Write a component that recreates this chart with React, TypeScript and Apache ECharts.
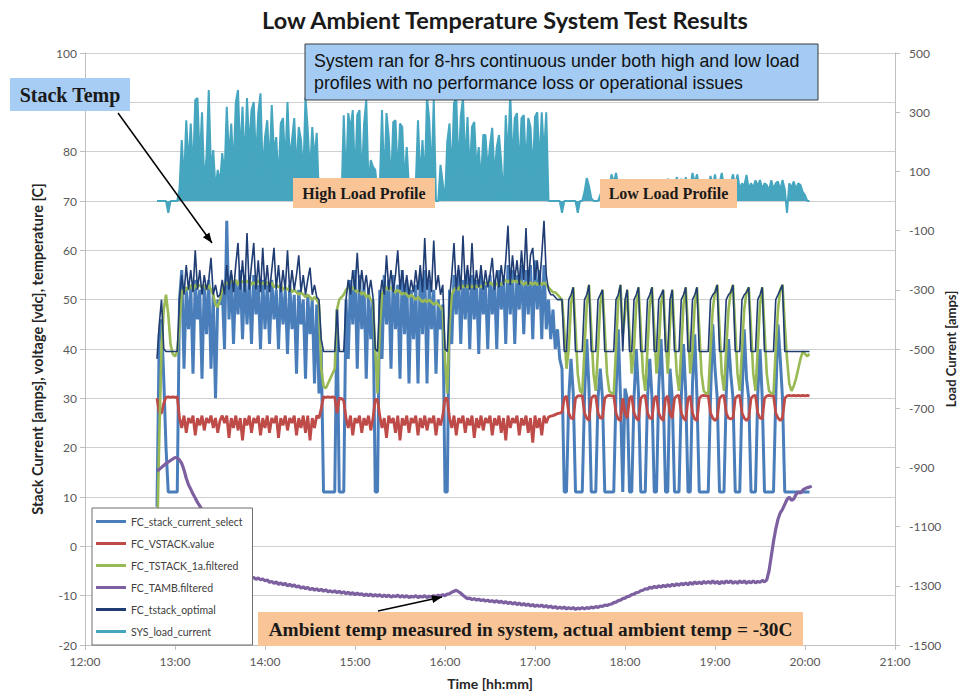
import React, { useEffect, useRef } from "react";
import * as echarts from "echarts";

// Sampling of the logged data: first sample 12:48, one sample every 1.5 minutes
const T0 = 12.8; // hours
const STEP = 0.025; // hours

const xTickHours = [12, 13, 14, 15, 16, 17, 18, 19, 20, 21];
const leftTickLabels = [-20, -10, 0, 10, 20, 30, 40, 50, 60, 70, 80, 100]; // 90 sits under the "Stack Temp" box
const loadTicks = [-1500, -1300, -1100, -900, -700, -500, -300, -100, 100, 300, 500];

// FC_stack_current_select [amps]
const stackCurrent = [
  8, 43, 46, 34, 20, 11, 11, 11, 11, 11,
  50, 56, 36, 52, 44, 53, 35, 54, 46, 52,
  34, 53, 43, 54, 36, 51, 30, 50, 49, 52,
  40, 66, 46, 55, 41, 54, 47, 56, 42, 55,
  45, 54, 41, 55, 47, 53, 40, 54, 44, 53,
  41, 54, 46, 52, 40, 53, 45, 52, 39, 53,
  44, 51, 35, 52, 45, 50, 34, 51, 43, 50,
  33, 49, 31, 40, 11, 11, 11, 11, 11, 11,
  48, 11, 11, 11, 50, 38, 54, 45, 56, 36,
  55, 44, 53, 34, 52, 42, 50, 11, 11, 52,
  38, 55, 45, 54, 36, 55, 44, 53, 34, 56,
  43, 54, 33, 52, 42, 53, 33, 55, 43, 56,
  33, 54, 44, 52, 35, 50, 44, 49, 11, 11,
  52, 41, 55, 47, 56, 41, 54, 46, 56, 40,
  55, 46, 54, 39, 55, 47, 53, 40, 55, 47,
  54, 40, 56, 48, 55, 41, 57, 47, 56, 41,
  55, 48, 57, 43, 56, 47, 57, 42, 58, 48,
  56, 42, 57, 44, 50, 42, 48, 40, 44, 38,
  36, 11, 11, 30, 38, 31, 11, 11, 11, 11,
  30, 42, 32, 11, 11, 11, 30, 36, 30, 11,
  11, 11, 11, 11, 31, 44, 30, 11, 32, 30,
  11, 11, 30, 40, 31, 11, 11, 11, 30, 38,
  30, 11, 11, 32, 42, 31, 11, 11, 36, 30,
  11, 11, 11, 30, 41, 31, 11, 11, 33, 43,
  30, 11, 11, 11, 11, 11, 30, 45, 36, 30,
  11, 11, 11, 31, 42, 35, 30, 11, 11, 11,
  30, 44, 34, 30, 11, 11, 11, 31, 40, 30,
  11, 11, 11, 11, 11, 30, 45, 38, 30, 11,
  11, 11, 11, 11, 11, 11, 11, 11, 11, 11,
  11, null,
];

// FC_VSTACK.value [vdc]
const vstack = [
  30, 27, 27, 29, 30.2, 30.3, 30.2, 30.3, 30.2, 30.3,
  26, 24, 26.5, 23, 26, 25, 26.5, 22.5, 26, 24.5,
  26.5, 23.5, 26, 25, 26.5, 24, 26, 23, 25.5, 26.5,
  25, 26.5, 22, 26, 24, 26.5, 23.5, 26, 21.5, 26,
  24.5, 26.5, 23, 26, 25, 26.5, 22.5, 26, 24, 26.5,
  23, 26, 25, 26.5, 22, 26, 24.5, 26.5, 23.5, 26,
  25, 26.5, 22.5, 26, 24, 26.5, 23, 26.5, 21.5, 26,
  24, 26.5, 26, 28, 30.3, 30.2, 30.3, 30.2, 30.3, 30.2,
  27, 30, 30, 29.5, 26, 24, 26.5, 22.5, 26, 25,
  26.5, 23, 26, 24.5, 26.5, 23.5, 26, 29.8, 29.8, 26.5,
  24, 26, 22, 26.5, 25, 26, 23, 26.5, 21.5, 26,
  24.5, 26.5, 23, 26, 25, 26.5, 22.5, 26, 24, 26.5,
  23.5, 26, 25, 26.5, 22.5, 26, 24.5, 26.5, 30, 30,
  26, 24, 26.5, 22.5, 26, 25, 26.5, 23, 26, 24.5,
  26.5, 22, 26, 24, 26.5, 23.5, 26, 25, 26.5, 22.5,
  26, 24.5, 26.5, 23, 26, 21.5, 26.5, 24, 26, 25,
  26.5, 22.5, 26, 24.5, 26.5, 23, 26, 21, 26.5, 24,
  26, 22.5, 26.5, 25, 26.2, 26.4, 26.5, 26.7, 26.9, 27,
  27.2, 30, 30.5, 27, 26, 25.8, 30, 30.5, 30.5, 30.6,
  27, 26, 25.5, 30, 30.5, 30.5, 27, 26, 26, 30,
  30.5, 30.6, 30.5, 30.6, 27, 25.8, 25.5, 30, 27, 26,
  30, 30.5, 27, 26, 25.5, 30, 30.5, 30.6, 27, 26,
  25.8, 30, 30.5, 27, 26, 25.5, 30, 30.5, 27, 26,
  30, 30.5, 30.6, 27, 26, 25.5, 30, 30.5, 27, 25.8,
  25.5, 30, 30.5, 30.6, 30.5, 30.6, 27, 26, 25.5, 26,
  30, 30.5, 30.6, 27, 26, 25.8, 26, 30, 30.5, 30.6,
  27, 26, 25.5, 26, 30, 30.5, 30.6, 27, 26, 25.8,
  30, 30.5, 30.6, 30.5, 30.6, 27, 26, 25.5, 26, 30,
  30.5, 30.6, 30.5, 30.6, 30.5, 30.6, 30.5, 30.6, 30.5, 30.6,
  30.5, null,
];

// FC_TSTACK_1a.filtered [C]
const tstack = [
  0, 22, 40, 48, 51, 47, 41, 39, 38.5, 39.5,
  45, 52, 51.5, 52.5, 52, 53, 52, 53, 52.5, 53,
  52.5, 53, 52, 53, 52, 51, 49, 48.5, 50, 52,
  53, 53.5, 53, 54, 53.5, 54, 53, 54, 53.5, 54,
  53.5, 54, 53, 53.5, 53, 54, 53, 53.5, 53, 53.5,
  53, 53.5, 52.5, 53, 52.5, 53, 52, 52.5, 52, 52.5,
  51.5, 52, 51.5, 51, 51.5, 51, 50.5, 51, 50.5, 50,
  50.5, 50, 49, 36, 32.5, 32, 33, 34, 35, 36,
  48, 50, 50.5, 51, 52, 52.5, 52, 52.5, 52, 51.5,
  52, 51, 51.5, 50.5, 51, 50, 49.5, 40, 31, 44,
  51, 52, 52.5, 52, 52.5, 52, 51.5, 52, 51.5, 51,
  51.5, 51, 50.5, 51, 50.5, 50, 50.5, 50, 49.5, 50,
  49.5, 50, 49.5, 49, 49.5, 49, 48.5, 48, 38, 31,
  45, 51, 52, 52.5, 52, 53, 52.5, 53, 52.5, 53,
  52.5, 53, 52.5, 53, 52.5, 53, 53.5, 53, 53.5, 53,
  53.5, 53, 53.5, 53, 53.5, 54, 53.5, 54, 53.5, 54,
  53.5, 54, 53.5, 53, 53.5, 53, 53.5, 53, 53.5, 53,
  53.5, 53, 53.5, 53, 52.5, 52, 51.5, 51.5, 51, 50.5,
  50, 44, 36, 40, 49, 52.5, 44, 35, 31.5, 31,
  40, 49, 53, 44, 35, 31.5, 40, 49, 52, 44,
  35, 31.5, 31, 31, 40, 50, 53, 43, 47, 52,
  43, 35, 40, 49, 52.5, 44, 35, 31.5, 40, 49,
  52.5, 44, 35, 40, 49, 52, 43, 35, 45, 52,
  43, 35, 31.5, 40, 49, 52.5, 44, 35, 40, 49,
  52.5, 44, 35, 31.5, 31, 31, 40, 48, 51.5, 53,
  44, 35, 31.5, 40, 48, 51.5, 53, 44, 35, 31.5,
  40, 48, 51.5, 52.5, 44, 35, 31.5, 40, 49, 52.5,
  44, 35, 31.5, 31, 31, 40, 48, 52, 53, 45,
  38, 33, 31.5, 32.5, 34, 36, 38, 39.5, 39, 38.5,
  39, null,
];

// FC_TAMB.filtered [C]
const tamb = [
  15.3, 15.6, 16, 16.4, 16.8, 17.1, 17.4, 17.7, 18, 17.9,
  17.5, 16.8, 15.5, 13.8, 12.5, 11.6, 10.6, 9.8, 8.9, 8.2,
  7.4, 6.6, 5.8, 5, 4.2, 3.4, 2.6, 1.8, 1, 0.2,
  -0.6, -1.4, -2.1, -2.8, -3.5, -4.1, -4.7, -5.2, -5.7, -6,
  -6.3, -6.1, -6.5, -6.3, -6.7, -6.4, -6.8, -6.6, -7, -6.8,
  -7.3, -7.1, -7.5, -7.2, -7.7, -7.4, -7.8, -7.5, -8, -7.7,
  -8.1, -7.8, -8.3, -8, -8.5, -8.2, -8.6, -8.3, -8.8, -8.5,
  -8.9, -8.6, -9, -8.7, -9.1, -8.8, -9.2, -9, -9.3, -9,
  -9.4, -9.1, -9.5, -9.2, -9.6, -9.3, -9.7, -9.4, -9.8, -9.5,
  -9.8, -9.6, -10, -9.7, -10, -9.7, -10.1, -9.8, -10.1, -9.8,
  -10.2, -9.9, -10.2, -9.9, -10.3, -10, -10.2, -9.9, -10.3, -10,
  -10.3, -10, -10.4, -10.1, -10.3, -10, -10.4, -10.1, -10.3, -10,
  -10.4, -10.1, -10.3, -10, -10.2, -9.9, -10.1, -9.8, -10, -9.7,
  -9.6, -9.3, -9.1, -8.9, -9.2, -9.5, -9.9, -10.3, -10.6, -10.5,
  -10.8, -10.6, -10.9, -10.7, -11, -10.8, -11.1, -10.9, -11.2, -11,
  -11.3, -11, -11.4, -11.1, -11.5, -11.2, -11.6, -11.3, -11.7, -11.4,
  -11.8, -11.5, -11.9, -11.6, -12, -11.7, -12.1, -11.8, -12.2, -11.9,
  -12.2, -11.9, -12.3, -12, -12.4, -12.1, -12.5, -12.2, -12.6, -12.3,
  -12.6, -12.3, -12.7, -12.4, -12.7, -12.4, -12.8, -12.5, -12.7, -12.4,
  -12.7, -12.4, -12.6, -12.3, -12.5, -12.2, -12.4, -12.1, -12.2, -11.9,
  -12, -11.8, -11.7, -11.4, -11.3, -11, -10.9, -10.6, -10.5, -10.2,
  -10.1, -9.8, -9.7, -9.4, -9.3, -9, -8.9, -8.6, -8.7, -8.3,
  -8.5, -8.1, -8.4, -8, -8.3, -7.9, -8.2, -7.8, -8.1, -7.7,
  -8, -7.6, -7.9, -7.5, -7.8, -7.4, -7.8, -7.3, -7.7, -7.2,
  -7.6, -7.2, -7.6, -7.1, -7.5, -7.1, -7.5, -7, -7.5, -7.1,
  -7.6, -7.1, -7.5, -7, -7.4, -7, -7.5, -7.1, -7.5, -7,
  -7.4, -7, -7.5, -7.1, -7.4, -7, -7.4, -7.1, -7.3, -6.9,
  -7.2, -6.8, -5, -2, 1, 3.5, 5.5, 6.8, 7.5, 8.5,
  9.5, 10, 9.3, 9.6, 10.5, 11, 10.8, 11.4, 11.7, 11.9,
  12, 12.2,
];

// FC_tstack_optimal [C]
const tstackOptimal = [
  38, 45, 50, 40, 39.5, 39.5, 39.5, 39.5, 39.5, 39.5,
  50, 55, 51, 57, 52, 56, 51.5, 60, 52, 56,
  51, 55, 52, 54, 58.5, 51, 53, 50.5, 51, 54,
  51, 57, 52, 56, 51.5, 57, 61.5, 52, 58, 51.5,
  63.5, 52, 57, 61.5, 52, 58, 51.5, 60.5, 52, 57,
  51.5, 56, 60.5, 52, 57, 51.5, 56, 52, 60, 51.5,
  56, 52, 55, 59, 51.5, 55, 51, 54, 56.5, 51,
  53, 50.5, 50, 42, 39.5, 39.5, 39.5, 39.5, 39.5, 39.5,
  48, 39.5, 39.5, 39.5, 50, 54, 51, 56, 52, 59.5,
  51.5, 56, 52, 55, 51, 54, 50.5, 40, 39.5, 50,
  54, 51, 59, 52, 56, 51.5, 55, 60, 52, 56,
  51.5, 55, 51, 54, 51.5, 56, 52, 57, 51.5, 62.5,
  52, 56, 51.5, 62, 52, 55, 51, 53, 40, 39.5,
  50, 55, 61.5, 52, 57, 52, 63, 52.5, 57, 52,
  61.5, 52, 56, 52.5, 57, 52, 56, 52.5, 55, 58.5,
  52, 56, 52.5, 57, 53, 58, 65, 53, 59, 54,
  58, 53, 60, 54, 64.5, 53, 59, 60.5, 54, 58,
  53, 59, 66, 55, 52, 51, 51, 50.5, 50, 50,
  50, 39.5, 39.5, 50, 51, 52.5, 39.5, 39.5, 39.5, 39.5,
  50, 51, 53, 39.5, 39.5, 39.5, 50, 51, 52, 39.5,
  39.5, 39.5, 39.5, 39.5, 50, 51, 53, 39.5, 50, 52,
  39.5, 39.5, 50, 51, 52.5, 39.5, 39.5, 39.5, 50, 51,
  52.5, 39.5, 39.5, 50, 51, 52, 39.5, 39.5, 50, 52,
  39.5, 39.5, 39.5, 50, 51, 52.5, 39.5, 39.5, 50, 51,
  52.5, 39.5, 39.5, 39.5, 39.5, 39.5, 50, 51, 51.5, 53,
  39.5, 39.5, 39.5, 50, 51, 51.5, 53, 39.5, 39.5, 39.5,
  50, 51, 51.5, 52.5, 39.5, 39.5, 39.5, 50, 51, 52.5,
  39.5, 39.5, 39.5, 39.5, 39.5, 50, 51, 52, 53, 39.5,
  39.5, 39.5, 39.5, 39.5, 39.5, 39.5, 39.5, 39.5, 39.5, 39.5,
  39.5, null,
];

// SYS_load_current [amps], right axis
const loadCurrent = [
  0, 0, 0, 0, 0, -40, 0, 0, 0, 0,
  40, 206, 60, 273, 120, 262, 90, 341, 348, 130,
  300, 60, 150, 375, 100, 172, 40, 105, 60, 162,
  80, 318, 140, 262, 100, 331, 375, 150, 318, 120,
  348, 180, 307, 334, 130, 297, 364, 90, 216, 273,
  110, 324, 160, 216, 60, 262, 280, 120, 334, 140,
  206, 280, 100, 250, 206, 80, 351, 240, 90, 250,
  140, 230, 0, 0, 0, 0, 0, 0, 0, 0,
  0, 0, 0, 290, 60, 297, 240, 307, 70, 290,
  307, 60, 257, 341, 50, 138, 115, 105, 30, 40,
  307, 60, 297, 216, 50, 267, 273, 80, 262, 250,
  60, 182, 40, 60, 40, 50, 273, 70, 206, 60,
  351, 273, 80, 341, 0, 0, 122, 60, 0, 200,
  262, 80, 331, 351, 100, 284, 348, 120, 284, 90,
  250, 267, 110, 182, 60, 223, 223, 100, 189, 247,
  80, 182, 223, 130, 0, 290, 140, 364, 120, 280,
  297, 100, 280, 290, 110, 280, 250, 90, 284, 300,
  120, 300, 150, 300, 0, 0, 0, 0, 0, 0,
  -40, 0, 0, 0, 0, 0, 0, -40, 0, 0,
  30, 78, 50, 10, 0, 0, 0, 20, 40, 30,
  50, 40, 90, 60, 95, 50, 30, 40, 20, 40,
  30, 50, 20, 40, 30, 60, 30, 40, 20, 50,
  30, 40, 20, 50, 30, 60, 40, 75, 40, 60,
  30, 81, 50, 75, 40, 80, 50, 40, 95, 60,
  90, 40, 50, 30, 60, 40, 85, 50, 90, 40,
  60, 95, 50, 70, 40, 60, 90, 50, 90, 40,
  60, 50, 88, 40, 60, 45, 70, 50, 71, 40,
  60, 54, 35, 70, 40, 60, 66, 35, 71, 40,
  -40, 60, 45, 66, 40, 60, 54, 30, 20, 0,
  0, null,
];

const SERIES = [
  { name: "FC_stack_current_select", values: stackCurrent, color: "#4A7EBB", width: 3, axis: 0, area: false },
  { name: "FC_VSTACK.value", values: vstack, color: "#BE4B48", width: 2.8, axis: 0, area: false },
  { name: "FC_TSTACK_1a.filtered", values: tstack, color: "#98B954", width: 2.6, axis: 0, area: false },
  { name: "FC_TAMB.filtered", values: tamb, color: "#7D60A0", width: 3.2, axis: 0, area: false },
  { name: "FC_tstack_optimal", values: tstackOptimal, color: "#1F3C73", width: 1.6, axis: 0, area: false },
  { name: "SYS_load_current", values: loadCurrent, color: "#46A6C0", width: 2, axis: 1, area: true },
];

const toPairs = (arr: (number | null)[]) =>
  arr
    .map((v, i) => [Number((T0 + i * STEP).toFixed(4)), v])
    .filter((p) => p[1] !== null);

const SERIF = '"Liberation Serif", "DejaVu Serif", serif';
const SANS = 'Lato, "Open Sans", sans-serif';

function arrowHead(x1: number, y1: number, x2: number, y2: number, len = 10, half = 4) {
  const dx = x2 - x1;
  const dy = y2 - y1;
  const d = Math.hypot(dx, dy);
  const ux = dx / d;
  const uy = dy / d;
  const bx = x2 - ux * len;
  const by = y2 - uy * len;
  return [
    [x2, y2],
    [bx - uy * half, by + ux * half],
    [bx + uy * half, by - ux * half],
  ];
}

function labelBox(x: number, y: number, w: number, h: number, fill: string, text: string, font: string) {
  return [
    {
      type: "rect",
      z: 100,
      shape: { x, y, width: w, height: h },
      style: { fill },
    },
    {
      type: "text",
      z: 101,
      style: {
        text,
        x: x + w / 2,
        y: y + h / 2,
        font,
        fill: "#1a1a1a",
        align: "center",
        verticalAlign: "middle",
        textAlign: "center",
        textVerticalAlign: "middle",
      },
    },
  ];
}

export default function App() {
  const ref = useRef<HTMLDivElement>(null);

  useEffect(() => {
    if (!ref.current) return;
    const chart = echarts.init(ref.current, undefined, { renderer: "svg" });

    const a1 = [118, 113, 212, 243];
    const a2 = [378, 611, 442, 597];
    const axisTitle = { fontSize: 14, fontWeight: "bold", color: "#262626", fontFamily: SANS };

    const option: any = {
      animation: false,
      backgroundColor: "#ffffff",
      grid: { left: 85, right: 69, top: 53, bottom: 47, containLabel: false, outerBoundsMode: "none" },
      legend: {
        orient: "vertical",
        left: 92,
        top: 508,
        itemWidth: 30,
        itemHeight: 3,
        itemGap: 9,
        padding: [7, 10, 7, 4],
        backgroundColor: "#ffffff",
        borderColor: "#6f6f6f",
        borderWidth: 1,
        z: 20,
        textStyle: { fontSize: 10.5, color: "#404040", fontFamily: SANS, lineHeight: 13 },
        data: SERIES.map((s) => ({ name: s.name, icon: "rect" })),
      },
      xAxis: {
        type: "value",
        min: 12,
        max: 21,
        interval: 1,
        name: "Time [hh:mm]",
        nameLocation: "middle",
        nameGap: 31,
        nameTextStyle: axisTitle,
        axisLine: { show: true, onZero: false, lineStyle: { color: "#bfbfbf" } },
        axisTick: { show: true, length: 5, lineStyle: { color: "#bfbfbf" } },
        axisLabel: {
          color: "#595959",
          fontSize: 12,
          fontFamily: SANS,
          margin: 10,
          customValues: xTickHours,
          formatter: (v: number) => `${v}:00`,
        },
        splitLine: { show: false },
      },
      yAxis: [
        {
          type: "value",
          min: -20,
          max: 100,
          interval: 10,
          name: "Stack Current [amps], voltage [vdc], temperature [C]",
          nameLocation: "middle",
          nameRotate: 90,
          nameGap: 40,
          nameTextStyle: { ...axisTitle, fontSize: 14.5 },
          axisLine: { show: true, lineStyle: { color: "#bfbfbf" } },
          axisTick: { show: true, length: 5, lineStyle: { color: "#bfbfbf" } },
          axisLabel: {
            color: "#595959",
            fontSize: 12,
            fontFamily: SANS,
            margin: 8,
            customValues: leftTickLabels,
            formatter: (v: number) => (leftTickLabels.indexOf(v) >= 0 ? String(v) : ""),
          },
          splitLine: { show: true, lineStyle: { color: "#cfcfcf", width: 1.2 } },
        },
        {
          type: "value",
          min: -1500,
          max: 500,
          interval: 100,
          position: "right",
          name: "Load Current [amps]",
          nameLocation: "middle",
          nameRotate: 90,
          nameGap: 49,
          nameMoveOverlap: false,
          nameTextStyle: { ...axisTitle, fontSize: 13 },
          axisLine: { show: true, lineStyle: { color: "#bfbfbf" } },
          axisTick: { show: true, length: 5, customValues: loadTicks, lineStyle: { color: "#bfbfbf" } },
          axisLabel: {
            color: "#595959",
            fontSize: 12,
            fontFamily: SANS,
            margin: 14,
            customValues: loadTicks,
            formatter: (v: number) => (loadTicks.indexOf(v) >= 0 ? String(v) : ""),
          },
          splitLine: { show: false },
        },
      ],
      series: SERIES.map((s, k) => ({
        name: s.name,
        type: "line",
        yAxisIndex: s.axis,
        data: toPairs(s.values),
        symbol: "none",
        showSymbol: false,
        silent: true,
        z: 2 + k * 0.01,
        lineStyle: { color: s.color, width: s.width },
        itemStyle: { color: s.color },
        ...(s.area ? { areaStyle: { color: s.color, opacity: 1 } } : {}),
      })),
      graphic: [
        {
          type: "text",
          z: 101,
          style: {
            text: "Low Ambient Temperature System Test Results",
            x: 505,
            y: 20,
            font: `bold 23.5px ${SANS}`,
            fill: "#1a1a1a",
            align: "center",
            verticalAlign: "middle",
            textAlign: "center",
            textVerticalAlign: "middle",
          },
        },
        {
          type: "rect",
          z: 100,
          shape: { x: 305, y: 44, width: 513, height: 56 },
          style: { fill: "#a3cbf3", stroke: "#3a3a3a", lineWidth: 1 },
        },
        {
          type: "text",
          z: 101,
          style: {
            text: "System ran for 8-hrs continuous under both high and low load",
            x: 314,
            y: 61,
            font: '17.8px "Liberation Sans", Arial, sans-serif',
            fill: "#111111",
            verticalAlign: "middle",
            textVerticalAlign: "middle",
          },
        },
        {
          type: "text",
          z: 101,
          style: {
            text: "profiles with no performance loss or operational issues",
            x: 314,
            y: 83,
            font: '17.8px "Liberation Sans", Arial, sans-serif',
            fill: "#111111",
            verticalAlign: "middle",
            textVerticalAlign: "middle",
          },
        },
        ...labelBox(10, 78, 120, 33, "#a8cdf4", "Stack Temp", `bold 20px ${SERIF}`),
        ...labelBox(293, 178, 142, 30, "#f9c597", "High Load Profile", `bold 16px ${SERIF}`),
        ...labelBox(600, 179, 137, 29, "#f9c597", "Low Load Profile", `bold 16px ${SERIF}`),
        ...labelBox(258, 612, 545, 34, "#f9c597", "Ambient temp measured in system, actual ambient temp = -30C", `bold 19.3px ${SERIF}`),
        {
          type: "line",
          z: 102,
          shape: { x1: a1[0], y1: a1[1], x2: a1[2], y2: a1[3] },
          style: { stroke: "#000000", lineWidth: 1.5 },
        },
        {
          type: "polygon",
          z: 102,
          shape: { points: arrowHead(a1[0], a1[1], a1[2], a1[3]) },
          style: { fill: "#000000" },
        },
        {
          type: "line",
          z: 102,
          shape: { x1: a2[0], y1: a2[1], x2: a2[2], y2: a2[3] },
          style: { stroke: "#000000", lineWidth: 1.5 },
        },
        {
          type: "polygon",
          z: 102,
          shape: { points: arrowHead(a2[0], a2[1], a2[2], a2[3]) },
          style: { fill: "#000000" },
        },
      ],
    };

    chart.setOption(option);
    return () => chart.dispose();
  }, []);

  return (
    <div
      ref={ref}
      style={{ position: "fixed", left: 0, top: 0, width: 964, height: 692, background: "#ffffff" }}
    />
  );
}
